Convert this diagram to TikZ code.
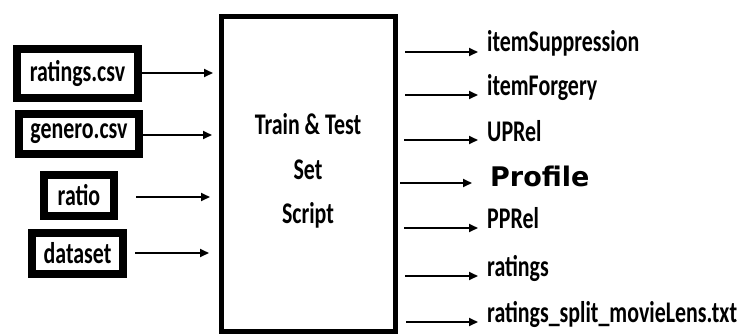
\documentclass[tikz,border=0pt]{standalone}
\usepackage{fontspec}
\setmainfont{Carlito}[FakeStretch=0.73]
\newfontfamily\proffont{DejaVu Sans}
\usetikzlibrary{arrows.meta}
\tikzset{
  inbox/.style={draw=black, line width=8pt, inner sep=0pt, fill=white},
  arr/.style={line width=1.8pt, -{Triangle[length=9pt,width=8pt]}},
  outtxt/.style={anchor=west, inner sep=0pt, text height=0.62em, text depth=0.2em},
  lab/.style={font=\fontsize{30}{44.5}\selectfont\bfseries},
}
\begin{document}
\begin{tikzpicture}[x=1pt,y=-1pt]
\useasboundingbox (0,0) rectangle (745,335);
% input boxes
\node[inbox, lab, minimum width=121pt, minimum height=49pt] (rat) at (77.5,73.5) {ratings.csv};
\node[inbox, lab, minimum width=120pt, minimum height=40pt] (gen) at (79,134) {genero.csv};
\node[inbox, lab, minimum width=70pt, minimum height=41pt] (rio) at (79,195.5) {ratio};
\node[inbox, lab, minimum width=91pt, minimum height=41pt] (dat) at (77.5,253.5) {dataset};
% main box
\node[draw=black, line width=5pt, minimum width=174pt, minimum height=315pt, inner sep=0pt] (script) at (308,173.5) {};
\node[lab, align=center] (stxt) at (308,171) {Train \& Test\\Set\\Script};
% input arrows
\coordinate (a1s) at (142,73);  \coordinate (a1e) at (213,73);
\coordinate (a2s) at (143,135); \coordinate (a2e) at (212,135);
\coordinate (a3s) at (136,197); \coordinate (a3e) at (210,197);
\coordinate (a4s) at (135,253); \coordinate (a4e) at (209,253);
\draw[arr] (a1s) -- (a1e);
\draw[arr] (a2s) -- (a2e);
\draw[arr] (a3s) -- (a3e);
\draw[arr] (a4s) -- (a4e);
% outputs
\node[outtxt, lab] (o1) at (487,49) {itemSuppression};
\node[outtxt, lab] (o2) at (487,93) {itemForgery};
\node[outtxt, lab] (o3) at (487,139) {UPRel};
\node[outtxt, inner sep=0pt, font=\proffont\bfseries\fontsize{27}{32}\selectfont] (o4) at (490,184) {Profile};
\node[outtxt, lab] (o5) at (487,226) {PPRel};
\node[outtxt, lab] (o6) at (487,274) {ratings};
\node[outtxt, lab] (o7) at (487,320) {ratings\_split\_movieLens.txt};
\coordinate (b1) at (405,52);
\coordinate (b2) at (405,95);
\coordinate (b3) at (404,140);
\coordinate (b4) at (400,183);
\coordinate (b5) at (404,228);
\coordinate (b6) at (405,276);
\coordinate (b7) at (406,322);
\draw[arr] (b1) -- ([xshift=-9pt]b1 -| o1.west);
\draw[arr] (b2) -- ([xshift=-9pt]b2 -| o2.west);
\draw[arr] (b3) -- ([xshift=-9pt]b3 -| o3.west);
\draw[arr] (b4) -- ([xshift=-18pt]b4 -| o4.west);
\draw[arr] (b5) -- ([xshift=-9pt]b5 -| o5.west);
\draw[arr] (b6) -- ([xshift=-9pt]b6 -| o6.west);
\draw[arr] (b7) -- ([xshift=-9pt]b7 -| o7.west);
\end{tikzpicture}
\end{document}
